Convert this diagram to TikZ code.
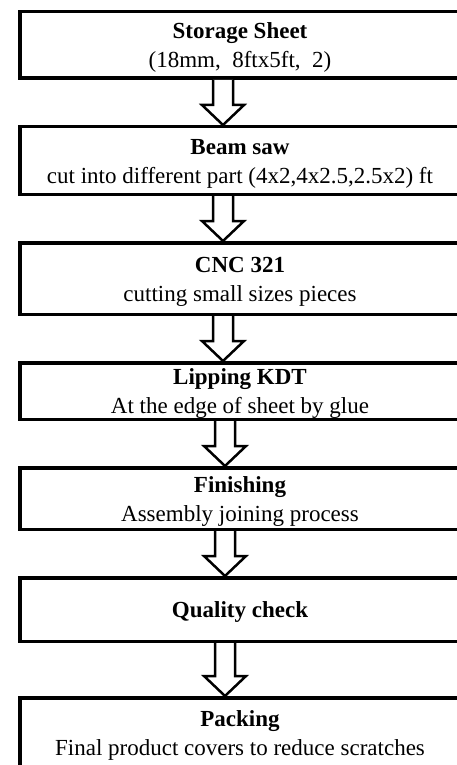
\documentclass[tikz,border=0pt]{standalone}
\usepackage{fontspec}
\setmainfont{Liberation Serif}
\usetikzlibrary{positioning,calc}
\newcommand{\tstrut}{\rule{0pt}{21pt}}

\begin{document}
\begin{tikzpicture}[x=1pt, y=1pt, node distance={45pt},
    main/.style = {draw, line width=3.5pt, minimum width=440pt, align=center,
        inner sep=0pt, font=\fontsize{23}{29}\selectfont},
    blockarrow/.style = {draw, line width=2.5pt, fill=white, to path={
        let \p1=(\tikztostart), \p2=(\tikztotarget) in
        (\x1-10pt,\y1) -- (\x1-10pt,\y2+20pt) -- (\x1-21pt,\y2+20pt) -- (\x1,\y2)
        -- (\x1+21pt,\y2+20pt) -- (\x1+10pt,\y2+20pt) -- (\x1+10pt,\y1)}}]
    \useasboundingbox (0,0) rectangle (457,-765);
    \clip (0,0) rectangle (457,-765);
    \node[main, minimum height=66.5pt] (1) at (240,-45) {\tstrut\textbf{Storage Sheet}\\(18mm,\ \ 8ftx5ft,\ \ 2)};
    \node[main, minimum height=67.5pt] (2) [below=of 1] {\tstrut\textbf{Beam saw}\\cut into different part (4x2,4x2.5,2.5x2) ft};
    \node[main, minimum height=71.5pt] (3) [below=of 2] {\tstrut\textbf{CNC 321}\\cutting small sizes pieces};
    \node[main, minimum height=56.5pt] (4) [below=of 3] {\tstrut\textbf{Lipping KDT}\\At the edge of sheet by glue};
    \node[main, minimum height=61.5pt] (5) [below=of 4] {\tstrut\textbf{Finishing}\\Assembly joining process};
    \node[main, minimum height=63.5pt] (6) [below=of 5] {\tstrut\textbf{Quality check}};
    \node[main, minimum height=70.5pt] (7) [below=53pt of 6] {\tstrut\textbf{Packing}\\Final product covers to reduce scratches};
    \draw[blockarrow] ([xshift=-17pt]1.south) to ([xshift=-17pt]2.north);
    \draw[blockarrow] ([xshift=-17pt]2.south) to ([xshift=-17pt]3.north);
    \draw[blockarrow] ([xshift=-17pt]3.south) to ([xshift=-17pt]4.north);
    \draw[blockarrow] ([xshift=-15pt]4.south) to ([xshift=-15pt]5.north);
    \draw[blockarrow] ([xshift=-15pt]5.south) to ([xshift=-15pt]6.north);
    \draw[blockarrow] ([xshift=-15pt]6.south) to ([xshift=-15pt]7.north);
\end{tikzpicture}
\end{document}
